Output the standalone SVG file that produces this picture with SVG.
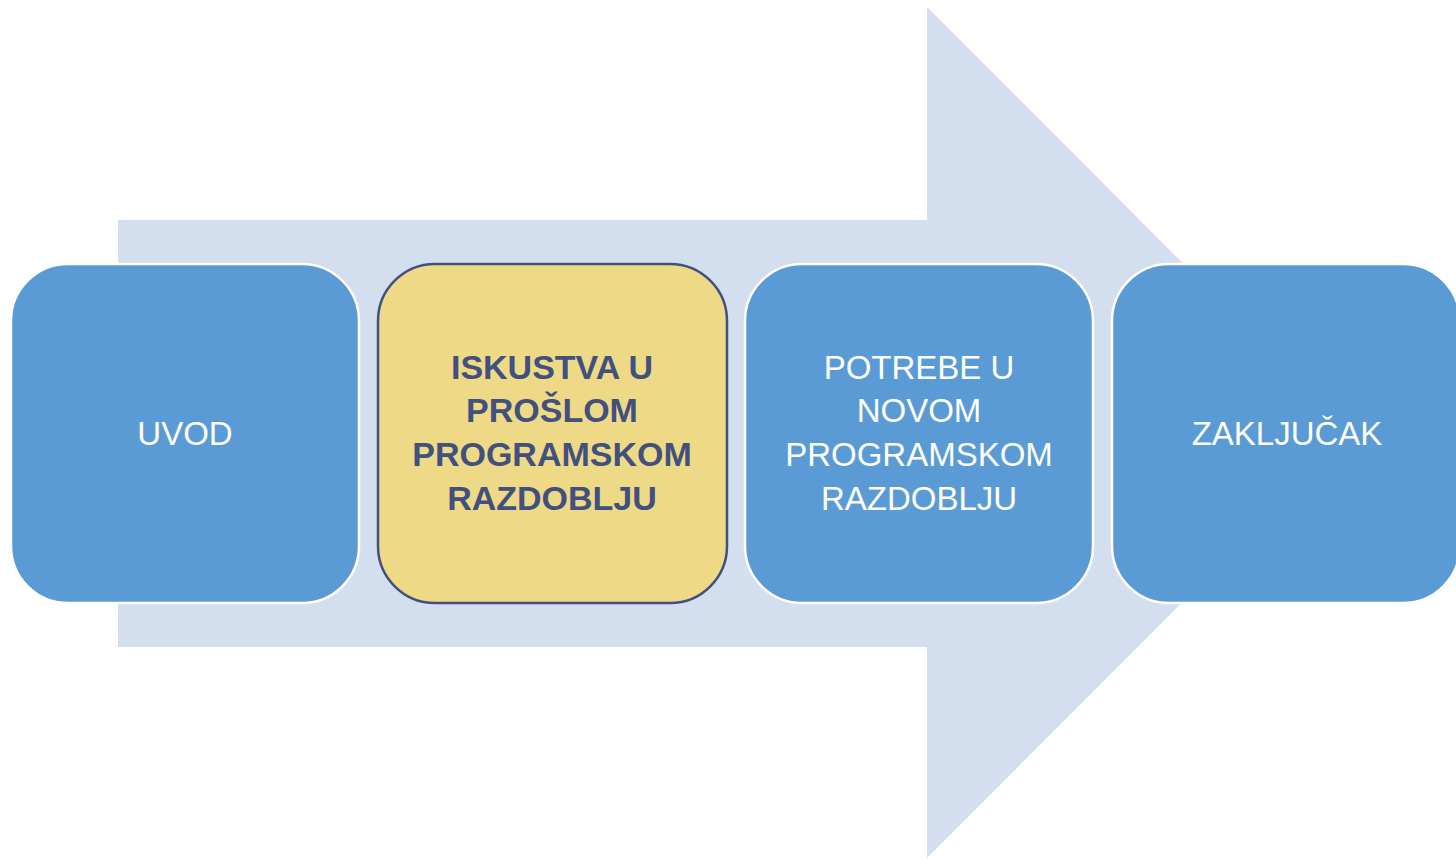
<svg xmlns="http://www.w3.org/2000/svg" width="1456" height="859" viewBox="0 0 1456 859">
<style>
.blue{fill:#5B9BD5;stroke:#FFFFFF;stroke-width:2.5}
.yel{fill:#EEDA86;stroke:#41507E;stroke-width:2.5}
.t{font-family:"Liberation Sans",Arial,sans-serif;font-size:34px;text-anchor:middle}
.w{fill:#FFFFFF;font-size:33px}
.d{fill:#41507E;font-weight:bold}
</style>
<rect width="1456" height="859" fill="#FFFFFF"/>
<g id="connectors">
<polygon id="big-arrow" points="118,220 927,220 927,7 1352,432.5 927,858 927,647 118,647" fill="#D3DEEF"/>
</g>
<g id="node-uvod">
<rect class="blue" x="11" y="264" width="348" height="339" rx="57" ry="57"/>
<text class="t w" x="185" y="445">UVOD</text>
</g>
<g id="node-iskustva">
<rect class="yel" x="378" y="264" width="349" height="339" rx="57" ry="57"/>
<text class="t d" x="552" y="379">ISKUSTVA U</text>
<text class="t d" x="552" y="422">PROŠLOM</text>
<text class="t d" x="552" y="466">PROGRAMSKOM</text>
<text class="t d" x="552" y="510">RAZDOBLJU</text>
</g>
<g id="node-potrebe">
<rect class="blue" x="745" y="264" width="348" height="339" rx="57" ry="57"/>
<text class="t w" x="919" y="379">POTREBE U</text>
<text class="t w" x="919" y="422">NOVOM</text>
<text class="t w" x="919" y="466">PROGRAMSKOM</text>
<text class="t w" x="919" y="510">RAZDOBLJU</text>
</g>
<g id="node-zakljucak">
<rect class="blue" x="1112" y="264" width="348" height="339" rx="57" ry="57"/>
<text class="t w" x="1287" y="445">ZAKLJUČAK</text>
</g>
</svg>
